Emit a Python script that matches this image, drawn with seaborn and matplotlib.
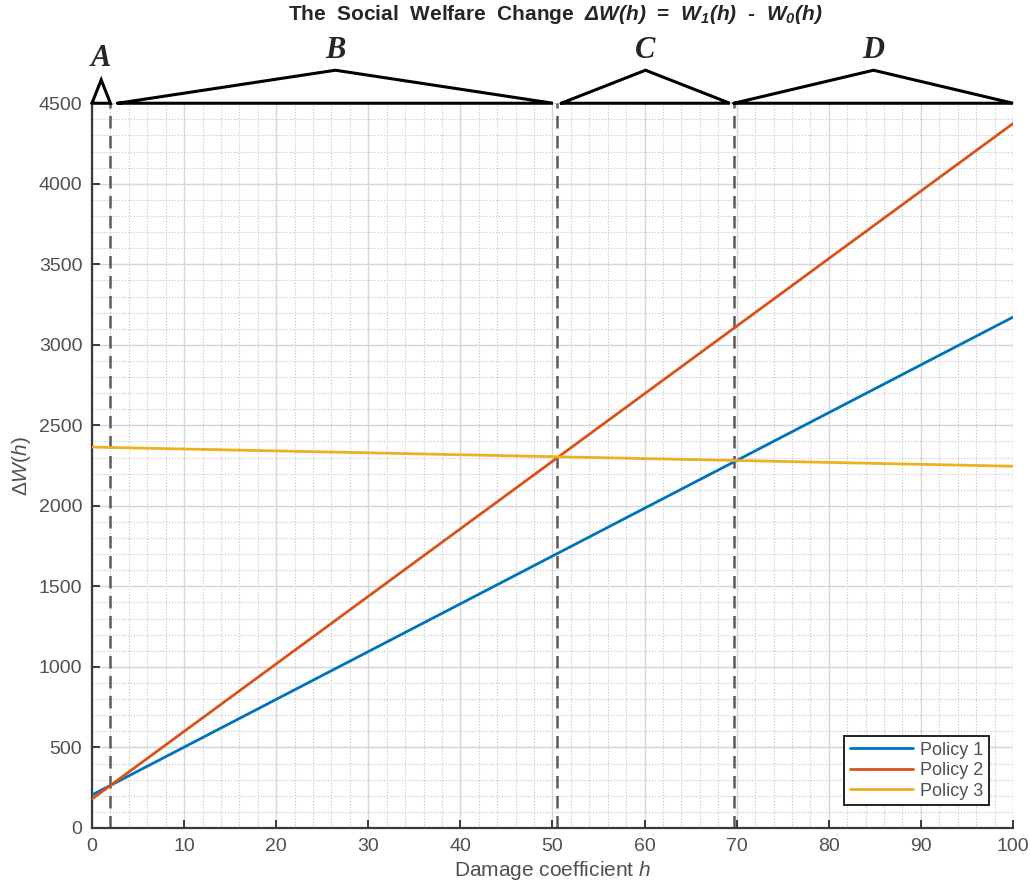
import numpy as np
import pandas as pd
import matplotlib
matplotlib.use("Agg")
import matplotlib.pyplot as plt
from matplotlib.ticker import MultipleLocator
import seaborn as sns

# Values (lines are straight, endpoints are enough)
h_values = [0, 100]
policy_1 = [205, 3172]
policy_2 = [180, 4374]
policy_3 = [2365, 2246]
policy_names = ["Policy 1", "Policy 2", "Policy 3"]
policy_colors = ["#0072BD", "#D95319", "#EDB120"]

# Region boundaries (dashed lines) and their labels
boundaries = [0, 2.0, 50.5, 69.7, 100]
region_labels = ["A", "B", "C", "D"]

df = pd.DataFrame({
    "h": h_values * 3,
    "dW": policy_1 + policy_2 + policy_3,
    "Policy": [n for n in policy_names for _ in h_values],
})

sns.set_theme(style="white")
plt.rcParams["font.family"] = ["Liberation Sans", "DejaVu Sans"]
plt.rcParams["mathtext.fontset"] = "custom"
plt.rcParams["mathtext.it"] = "Liberation Sans:italic"
plt.rcParams["mathtext.rm"] = "Liberation Sans"
plt.rcParams["mathtext.bf"] = "Liberation Sans:bold:italic"

fig = plt.figure(figsize=(10.3, 8.9), dpi=100)
ax = fig.add_axes([0.0893, 0.0697, 0.8942, 0.8143])

sns.lineplot(data=df, x="h", y="dW", hue="Policy", palette=policy_colors,
             linewidth=2.0, ax=ax, zorder=3)

ax.set_xlim(0, 100)
ax.set_ylim(0, 4500)
ax.xaxis.set_major_locator(MultipleLocator(10))
ax.xaxis.set_minor_locator(MultipleLocator(2))
ax.yaxis.set_major_locator(MultipleLocator(500))
ax.yaxis.set_minor_locator(MultipleLocator(100))
ax.grid(which="major", color="#d6d6d6", linewidth=1.0, linestyle="-")
ax.grid(which="minor", color="#c4c4c4", linewidth=0.8, linestyle=":")
ax.set_axisbelow(True)

for side in ["top", "right"]:
    ax.spines[side].set_visible(False)
for side in ["left", "bottom"]:
    ax.spines[side].set_color("#3a3a3a")
    ax.spines[side].set_linewidth(1.6)
ax.tick_params(which="major", direction="in", length=6, width=1.4,
               color="#3a3a3a", labelsize=14, labelcolor="#505050", pad=7,
               left=True, bottom=True)
ax.tick_params(which="minor", left=False, bottom=False)

# dashed region boundaries
for b in boundaries[1:-1]:
    ax.axvline(b, color="#5a5a5a", linestyle=(0, (5, 3)), linewidth=1.8, zorder=2)

# brackets above the plot
y_base = 4500
y_peak = 4705
y_text = 4735
for i, lab in enumerate(region_labels):
    x0, x1 = boundaries[i], boundaries[i + 1]
    if i == 0:
        xs = [x0, (x0 + x1) / 2, x1, x0]
        ys = [y_base, 4645, y_base, y_base]
    else:
        xa = x0 + (0.8 if i == 1 else (0.45 if i == 2 else 0.0))
        xb = x1 - (0.45 if i < 3 else 0.0)
        xm = (xa + xb) / 2
        xs = [xa, xm, xb, xa]
        ys = [y_base, y_peak, y_base, y_base]
    ax.plot(xs, ys, color="black", linewidth=2.2, clip_on=False,
            solid_joinstyle="miter", zorder=5)
    ax.text(xs[1], y_text if i else 4690, lab, ha="center", va="bottom",
            family="Liberation Serif", style="italic", weight="bold",
            fontsize=22, clip_on=False)

ax.set_xlabel("Damage coefficient $h$", fontsize=15, color="#505050", labelpad=3)
ax.set_ylabel(r"$\Delta W(h)$", fontsize=15, color="#505050", labelpad=4)

fig.text(0.539, 0.984,
         r"The  Social  Welfare  Change  $\mathbf{\Delta W(h)}$  =  "
         r"$\mathbf{W_1(h)}$  -  $\mathbf{W_0(h)}$",
         ha="center", va="center", fontsize=15, weight="bold", color="#262626")

leg = ax.legend(loc="lower right", bbox_to_anchor=(0.9835, 0.019),
                fontsize=13, frameon=True, fancybox=False, handlelength=3.5,
                borderpad=0.3, labelspacing=0.2, handletextpad=0.4)
leg.get_frame().set_edgecolor("#222222")
leg.get_frame().set_linewidth(1.4)
leg.get_frame().set_alpha(1)
for t in leg.get_texts():
    t.set_color("#505050")

fig.savefig("out.png", dpi=100)
